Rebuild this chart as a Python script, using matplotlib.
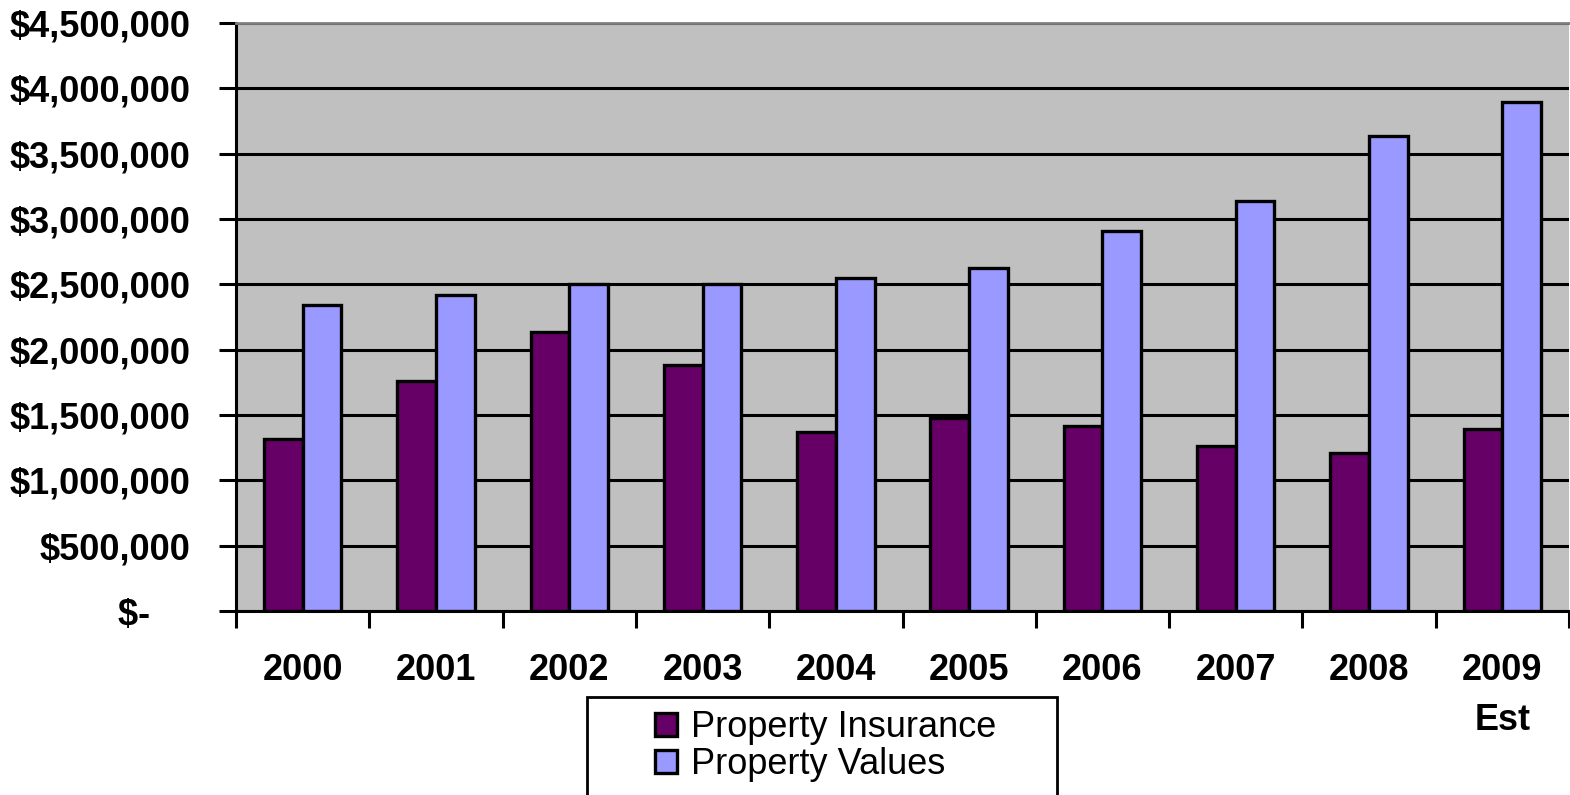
import numpy as np
import matplotlib
matplotlib.use("Agg")
import matplotlib.pyplot as plt
from matplotlib.ticker import FuncFormatter, MultipleLocator
from matplotlib.patches import Rectangle

years = ["2000", "2001", "2002", "2003", "2004", "2005", "2006", "2007", "2008", "2009\nEst"]
insurance = [1314000, 1757000, 2139000, 1879000, 1367000, 1474000, 1413000, 1261000, 1207000, 1390000]
values = [2345000, 2422000, 2500000, 2500000, 2552000, 2628000, 2911000, 3140000, 3636000, 3896000]

plt.rcParams['font.family'] = ['Liberation Sans', 'DejaVu Sans']

W, H = 1570, 795
fig = plt.figure(figsize=(W / 100, H / 100), dpi=100)
ax = fig.add_axes([236 / W, 1 - 611 / H, (1569 - 236) / W, (611 - 23) / H])
ax.set_facecolor("#C0C0C0")

x = np.arange(len(years))
bw = 0.29
ax.bar(x - bw / 2, insurance, bw, color="#660066", edgecolor="black", linewidth=2.4,
       label="Property Insurance", zorder=3)
ax.bar(x + bw / 2, values, bw, color="#9999FF", edgecolor="black", linewidth=2.4,
       label="Property Values", zorder=3)

ax.set_xlim(-0.5, len(years) - 0.5)
ax.set_ylim(0, 4500000)
ax.yaxis.set_major_locator(MultipleLocator(500000))
ax.yaxis.set_major_formatter(FuncFormatter(lambda v, p: "$-    " if v == 0 else f"${v:,.0f}"))
ax.grid(axis="y", color="black", linewidth=2.2, zorder=1)

ax.set_xticks(x)
ax.set_xticklabels(years)
ax.set_xticks(np.arange(-0.5, len(years), 1.0), minor=True)
ax.tick_params(axis="x", which="major", length=0, pad=30, labelsize=26)
ax.tick_params(axis="x", which="minor", length=12, width=2.2, direction="out")
ax.tick_params(axis="y", length=12, width=2.2, direction="out", pad=21, labelsize=26)
for lab in ax.get_xticklabels() + ax.get_yticklabels():
    lab.set_fontweight("bold")
ax.get_xticklabels()[-1].set_linespacing(1.55)

for s in ["left", "bottom"]:
    ax.spines[s].set_linewidth(2.2)
ax.spines["top"].set_color("#808080")
ax.spines["top"].set_linewidth(2)
ax.spines["right"].set_visible(False)

fig.patches.append(Rectangle((587 / W, -0.02), (1057 - 587) / W, (795 - 697) / H + 0.02,
                             transform=fig.transFigure, fill=False, edgecolor="black",
                             linewidth=2, clip_on=False))
fig.legend(loc="center", bbox_to_anchor=(826 / W, 1 - 746 / H), frameon=False,
           fontsize=26, handlelength=0.6, handleheight=0.6, handletextpad=0.4,
           labelspacing=0.05, borderpad=0)

fig.savefig("out.png", dpi=100)
